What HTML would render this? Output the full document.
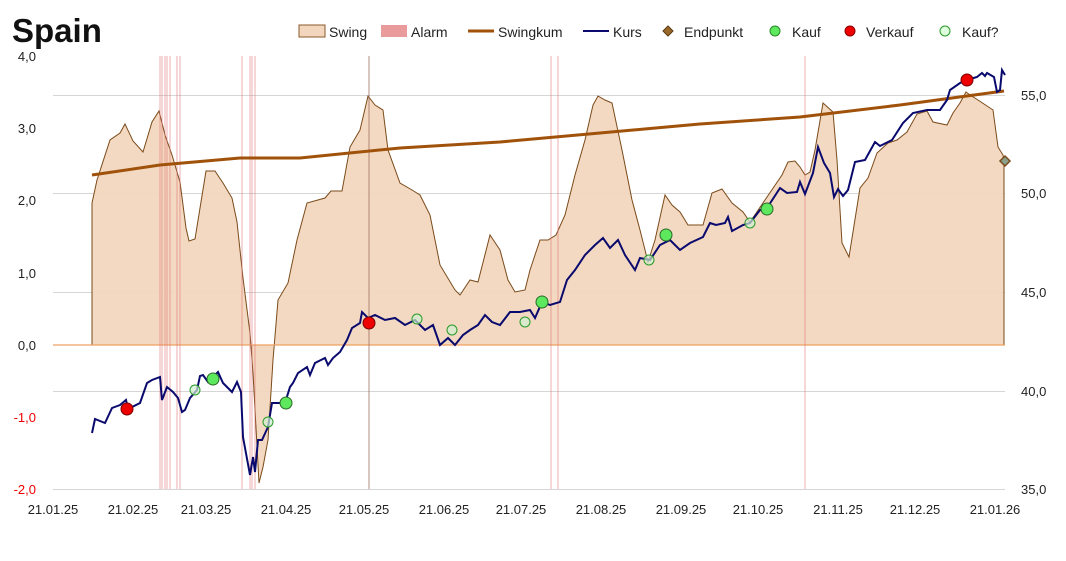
<!DOCTYPE html>
<html><head><meta charset="utf-8"><style>
body{margin:0;background:#fff;width:1066px;height:556px;overflow:hidden;font-family:"Liberation Sans",sans-serif}
</style></head><body>
<svg width="1066" height="556" viewBox="0 0 1066 556" xmlns="http://www.w3.org/2000/svg" font-family="Liberation Sans, sans-serif">
<text x="12" y="42" font-size="33" font-weight="bold" fill="#111">Spain</text>
<g font-size="14" fill="#222">
<rect x="299" y="25" width="26" height="12" fill="#f2d7be" stroke="#8b5a2b" stroke-width="1"/><text x="329" y="37">Swing</text>
<rect x="381" y="25" width="26" height="12" fill="#e99a9a"/><text x="411" y="37">Alarm</text>
<line x1="468" y1="31" x2="494" y2="31" stroke="#a0520a" stroke-width="3"/><text x="498" y="37">Swingkum</text>
<line x1="583" y1="31" x2="609" y2="31" stroke="#0a0a6e" stroke-width="2"/><text x="613" y="37">Kurs</text>
<path d="M668 26l5 5-5 5-5-5z" fill="#9a6a2a" stroke="#5a3a10"/><text x="684" y="37">Endpunkt</text>
<circle cx="775" cy="31" r="5" fill="#5de85d" stroke="#2a8a2a"/><text x="792" y="37">Kauf</text>
<circle cx="850" cy="31" r="5" fill="#e00" stroke="#800"/><text x="866" y="37">Verkauf</text>
<circle cx="945" cy="31" r="5" fill="#dfd" stroke="#2a9a2a"/><text x="962" y="37">Kauf?</text>
</g>
<g stroke="#d6d6d6" stroke-width="1">
<line x1="53" y1="95.5" x2="1005" y2="95.5"/><line x1="53" y1="193.5" x2="1005" y2="193.5"/><line x1="53" y1="292.5" x2="1005" y2="292.5"/><line x1="53" y1="391.5" x2="1005" y2="391.5"/><line x1="53" y1="489.5" x2="1005" y2="489.5"/>
</g>
<polygon fill="#f2d7be" fill-opacity="0.95" stroke="#7a4a1a" stroke-width="1" points="92,345 92,203 97,180 110,140 120,133 125,124 133,141 143,152 152,122 159,111 165,135 172,155 180,182 186,228 189,241 195,239 206,171 215,171 223,183 232,198 237,222 243,278 250,333 253,373 259,483 263,467 268,440 273,360 278,300 288,283 297,240 307,203 325,198 331,191 342,191 350,147 360,130 368,96 375,105 383,110 388,150 400,183 412,190 420,195 430,215 440,265 455,290 460,295 470,280 478,282 490,235 500,250 508,280 515,292 525,290 530,270 540,240 548,240 556,235 565,215 575,175 585,140 593,105 598,96 605,100 612,103 622,150 632,200 640,230 648,262 655,240 665,195 672,205 680,212 688,225 703,225 712,193 722,189 732,203 743,212 750,222 782,175 788,162 795,161 800,167 805,175 810,172 815,150 823,103 833,112 837,160 842,243 849,257 860,188 868,178 877,153 888,143 897,140 907,132 917,114 927,111 933,122 947,125 953,113 960,103 966,92 970,95 978,100 993,110 998,147 1003,155 1004,161 1004,345"/>
<line x1="53" y1="345" x2="1005" y2="345" stroke="#f0a060" stroke-width="1.2"/>
<g stroke="#e07070" stroke-width="0.8" opacity="0.7">
<line x1="160" y1="56" x2="160" y2="489"/><line x1="162" y1="56" x2="162" y2="489"/><line x1="165" y1="56" x2="165" y2="489"/><line x1="167" y1="56" x2="167" y2="489"/><line x1="170" y1="56" x2="170" y2="489"/><line x1="177" y1="56" x2="177" y2="489"/><line x1="180" y1="56" x2="180" y2="489"/>
<line x1="242" y1="56" x2="242" y2="489"/><line x1="250" y1="56" x2="250" y2="489"/><line x1="252" y1="56" x2="252" y2="489"/><line x1="255" y1="56" x2="255" y2="489"/>
<line x1="551" y1="56" x2="551" y2="489"/><line x1="558" y1="56" x2="558" y2="489"/><line x1="805" y1="56" x2="805" y2="489"/>
</g>
<line x1="369" y1="56" x2="369" y2="489" stroke="#a07060" stroke-width="0.8"/>
<polyline fill="none" stroke="#a0520a" stroke-width="3" points="92,175 160,165 240,158 300,158 400,148 500,142 600,133 700,124 800,117 900,105 1004,91"/>
<polyline fill="none" stroke="#0a0a6e" stroke-width="2" points="92,433 95,419 105,423 112,408 120,405 126,400 128,409 140,403 147,383 152,380 160,377 162,400 167,387 173,392 178,398 182,412 185,410 190,398 197,390 200,376 203,375 208,382 218,372 223,383 232,392 237,382 241,392 243,437 250,475 253,457 255,472 258,440 262,440 268,427 272,403 278,403 285,403 290,387 293,383 298,373 307,367 310,375 315,363 325,358 328,365 333,358 340,352 347,340 352,328 360,323 362,312 368,318 375,315 385,320 395,318 405,325 415,320 425,330 433,325 440,345 448,338 455,345 463,335 470,330 478,325 485,315 492,322 500,325 510,312 520,312 530,310 535,318 542,302 550,305 560,302 567,280 575,270 585,255 595,245 603,238 610,248 618,240 625,255 635,270 640,258 650,260 660,245 670,240 680,250 690,243 703,237 710,223 716,225 725,223 728,217 732,231 743,225 750,223 760,210 767,208 780,188 787,193 797,192 800,182 805,194 813,173 818,147 824,163 830,173 834,197 838,189 843,196 848,190 855,162 865,160 875,142 880,146 892,140 903,123 913,113 927,110 940,110 947,100 950,90 960,83 967,80 977,77 982,73 985,76 987,73 994,77 997,92 1000,90 1002,70 1005,75"/>
<g stroke="#2a9a2a" stroke-width="1" fill="#cfeecf" fill-opacity="0.7">
<circle cx="195" cy="390" r="5"/><circle cx="268" cy="422" r="5"/><circle cx="417" cy="319" r="5"/><circle cx="452" cy="330" r="5"/><circle cx="525" cy="322" r="5"/><circle cx="649" cy="260" r="5"/><circle cx="750" cy="223" r="5"/>
</g>
<g stroke="#2a6a2a" stroke-width="1" fill="#5de85d">
<circle cx="213" cy="379" r="6"/><circle cx="286" cy="403" r="6"/><circle cx="542" cy="302" r="6"/><circle cx="666" cy="235" r="6"/><circle cx="767" cy="209" r="6"/>
</g>
<g stroke="#700" stroke-width="1" fill="#e00">
<circle cx="127" cy="409" r="6"/><circle cx="369" cy="323" r="6"/><circle cx="967" cy="80" r="6"/>
</g>
<path d="M1005 156l5 5-5 5-5-5z" fill="#8aa08a" stroke="#7a4a1a" stroke-width="1.5"/>
<g font-size="13" fill="#222" text-anchor="end">
<text x="36" y="61">4,0</text><text x="36" y="133">3,0</text><text x="36" y="205">2,0</text><text x="36" y="278">1,0</text><text x="36" y="350">0,0</text>
<text x="36" y="422" fill="#e00">-1,0</text><text x="36" y="494" fill="#e00">-2,0</text>
</g>
<g font-size="13" fill="#222">
<text x="1021" y="100">55,0</text><text x="1021" y="198">50,0</text><text x="1021" y="297">45,0</text><text x="1021" y="396">40,0</text><text x="1021" y="494">35,0</text>
</g>
<g font-size="13" fill="#222" text-anchor="middle">
<text x="53" y="514">21.01.25</text><text x="133" y="514">21.02.25</text><text x="206" y="514">21.03.25</text><text x="286" y="514">21.04.25</text><text x="364" y="514">21.05.25</text><text x="444" y="514">21.06.25</text><text x="521" y="514">21.07.25</text><text x="601" y="514">21.08.25</text><text x="681" y="514">21.09.25</text><text x="758" y="514">21.10.25</text><text x="838" y="514">21.11.25</text><text x="915" y="514">21.12.25</text><text x="995" y="514">21.01.26</text>
</g>
</svg>
</body></html>
